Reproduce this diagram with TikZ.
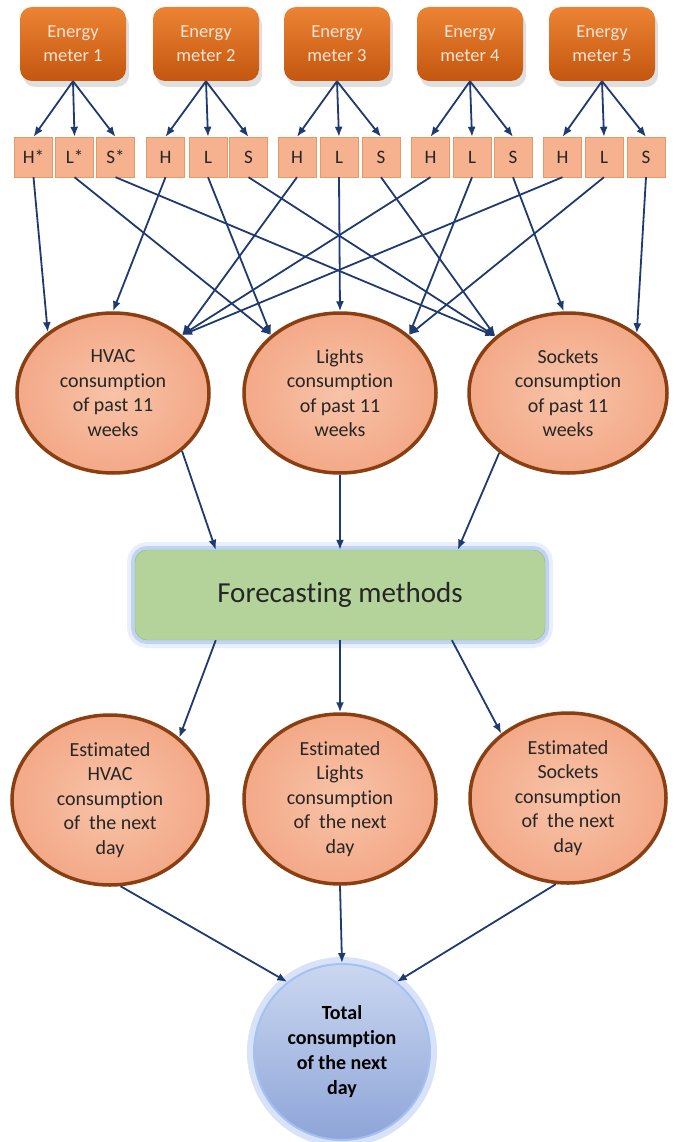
\documentclass[tikz,border=0pt]{standalone}
\usepackage{fontspec}
\setmainfont{Carlito}[Ligatures=NoCommon]
\usepackage{tikz}
\usetikzlibrary{positioning}
\usetikzlibrary{shapes.geometric,shadows}
\usetikzlibrary{arrows.meta}
\definecolor{arrowcol}{HTML}{1F3A6E}
\definecolor{metertop}{HTML}{EC8434}
\definecolor{meterbot}{HTML}{C4560F}
\definecolor{metertext}{HTML}{FCE4D6}
\definecolor{chanfill}{HTML}{F6B18F}
\definecolor{chanline}{HTML}{E39A66}
\definecolor{ellfill}{HTML}{F3A988}
\definecolor{ellin}{HTML}{F8C3A8}
\definecolor{ellline}{HTML}{8A3F12}
\definecolor{fmfill}{HTML}{B3D39A}
\definecolor{fmline}{HTML}{92BB74}
\definecolor{glowblue}{HTML}{8FB0F0}
\definecolor{totaltop}{HTML}{CAD7F0}
\definecolor{totalbot}{HTML}{8EA5D8}
\colorlet{txtcol}{black!85}
\tikzset{>={Latex[length=10pt,width=8pt]}}

\begin{document}
\begin{tikzpicture}[x=1pt,y=-1pt,
  meter/.style={rounded corners=12pt, top color=metertop, bottom color=meterbot,
    minimum width=106pt, minimum height=74pt, text=metertext, align=center,
    font=\fontsize{18.5}{24}\selectfont,
    drop shadow={opacity=0.25, shadow xshift=3pt, shadow yshift=-6pt}},
  chan/.style={draw=chanline, fill=chanfill, minimum width=38pt, minimum height=40pt,
    inner sep=0pt, text=txtcol, font=\fontsize{19}{22}\selectfont},
  cons/.style={ellipse, draw=ellline, line width=3.5pt, inner color=ellin, outer color=ellfill,
    minimum width=192pt, minimum height=160pt, inner sep=0pt, align=center,
    text=txtcol, font=\fontsize{20}{24.5}\selectfont},
  est/.style={cons, minimum height=170pt},
  flow/.style={->, arrowcol, line width=1.8pt}]

\useasboundingbox (0,0) rectangle (676,1142);

% --- Energy meters ---
\foreach \i/\x in {1/73, 2/206, 3/337, 4/470, 5/602}{
  \node[meter] (m\i) at (\x,44) {Energy\\meter \i};
}

% --- H / L / S channels of each meter ---
\node[chan] (h1) at (33.5,157) {H*};
\node[chan] (l1) at (74.5,157) {L*};
\node[chan] (s1) at (115.5,157) {S*};
\foreach \i/\a/\b/\c in {2/165.5/208/248.5, 3/297/339/381,
  4/430.5/472/513, 5/562.5/604/646}{
  \node[chan] (h\i) at (\a,157) {H};
  \node[chan] (l\i) at (\b,157) {L};
  \node[chan] (s\i) at (\c,157) {S};
}

\foreach \i in {1,...,5}{
  \draw[flow] (m\i.south) -- (h\i.north);
  \draw[flow] (m\i.south) -- (l\i.north);
  \draw[flow] (m\i.south) -- (s\i.north);
}

% --- Consumption of past 11 weeks ---
\node[cons] (hvac) at (113,393) {HVAC\\consumption\\of past 11\\weeks};
\node[cons] (lights) at (340,393) {Lights\\consumption\\of past 11\\weeks};
\node[cons, minimum width=198pt] (sockets) at (568,393) {Sockets\\consumption\\of past 11\\weeks};

\draw[flow] (h1.south) -- (hvac.137);
\draw[flow] (h2.south) -- (hvac.90);
\foreach \i in {3,4,5}{
  \draw[flow] (h\i.south) -- (hvac.40);
}
\foreach \i in {1,2}{
  \draw[flow] (l\i.south) -- (lights.140);
}
\draw[flow] (l3.south) -- (lights.90);
\foreach \i in {4,5}{
  \draw[flow] (l\i.south) -- (lights.40);
}
\foreach \i in {1,2,3}{
  \draw[flow] (s\i.south) -- (sockets.142);
}
\draw[flow] (s4.south) -- (sockets.93);
\draw[flow] (s5.south) -- (sockets.41);

% --- Forecasting ---
\node[rounded corners=12pt, draw=fmline, fill=fmfill, minimum width=410pt, minimum height=90pt,
  preaction={draw=glowblue, line width=16pt, opacity=0.2},
  preaction={draw=glowblue, line width=8pt, opacity=0.45},
  font=\fontsize{29}{34}\selectfont, text=txtcol] (fm) at (340,595) {Forecasting methods};

\draw[flow] (hvac.-40) -- (fm.160);
\draw[flow] (lights.south) -- (fm.north);
\draw[flow] (sockets.221) -- (fm.21);

% --- Estimated consumption of the next day ---
\node[est, minimum width=196pt] (esth) at (110,800) {Estimated\\HVAC\\consumption\\of\ \ the next\\day};
\node[est] (estl) at (340,799) {Estimated\\Lights\\consumption\\of\ \ the next\\day};
\node[est, minimum width=196pt] (ests) at (568,798) {Estimated\\Sockets\\consumption\\of\ \ the next\\day};

\draw[flow] (fm.200) -- (esth.42);
\draw[flow] (fm.south) -- (estl.north);
\draw[flow] (fm.-22) -- (ests.136);

% --- Total ---
\node[circle, minimum size=176pt, inner sep=0pt, draw=glowblue!80, line width=2pt,
  top color=totaltop, bottom color=totalbot,
  preaction={draw=glowblue, line width=14pt, opacity=0.35},
  align=center, text=black, font=\bfseries\fontsize{20}{25}\selectfont] (total) at (342,1052)
  {Total\\consumption\\of the next\\day};

\draw[flow] (esth.-83) -- (total.128);
\draw[flow] (estl.south) -- (total.north);
\draw[flow] (ests.-98) -- (total.52);

\end{tikzpicture}
\end{document}
